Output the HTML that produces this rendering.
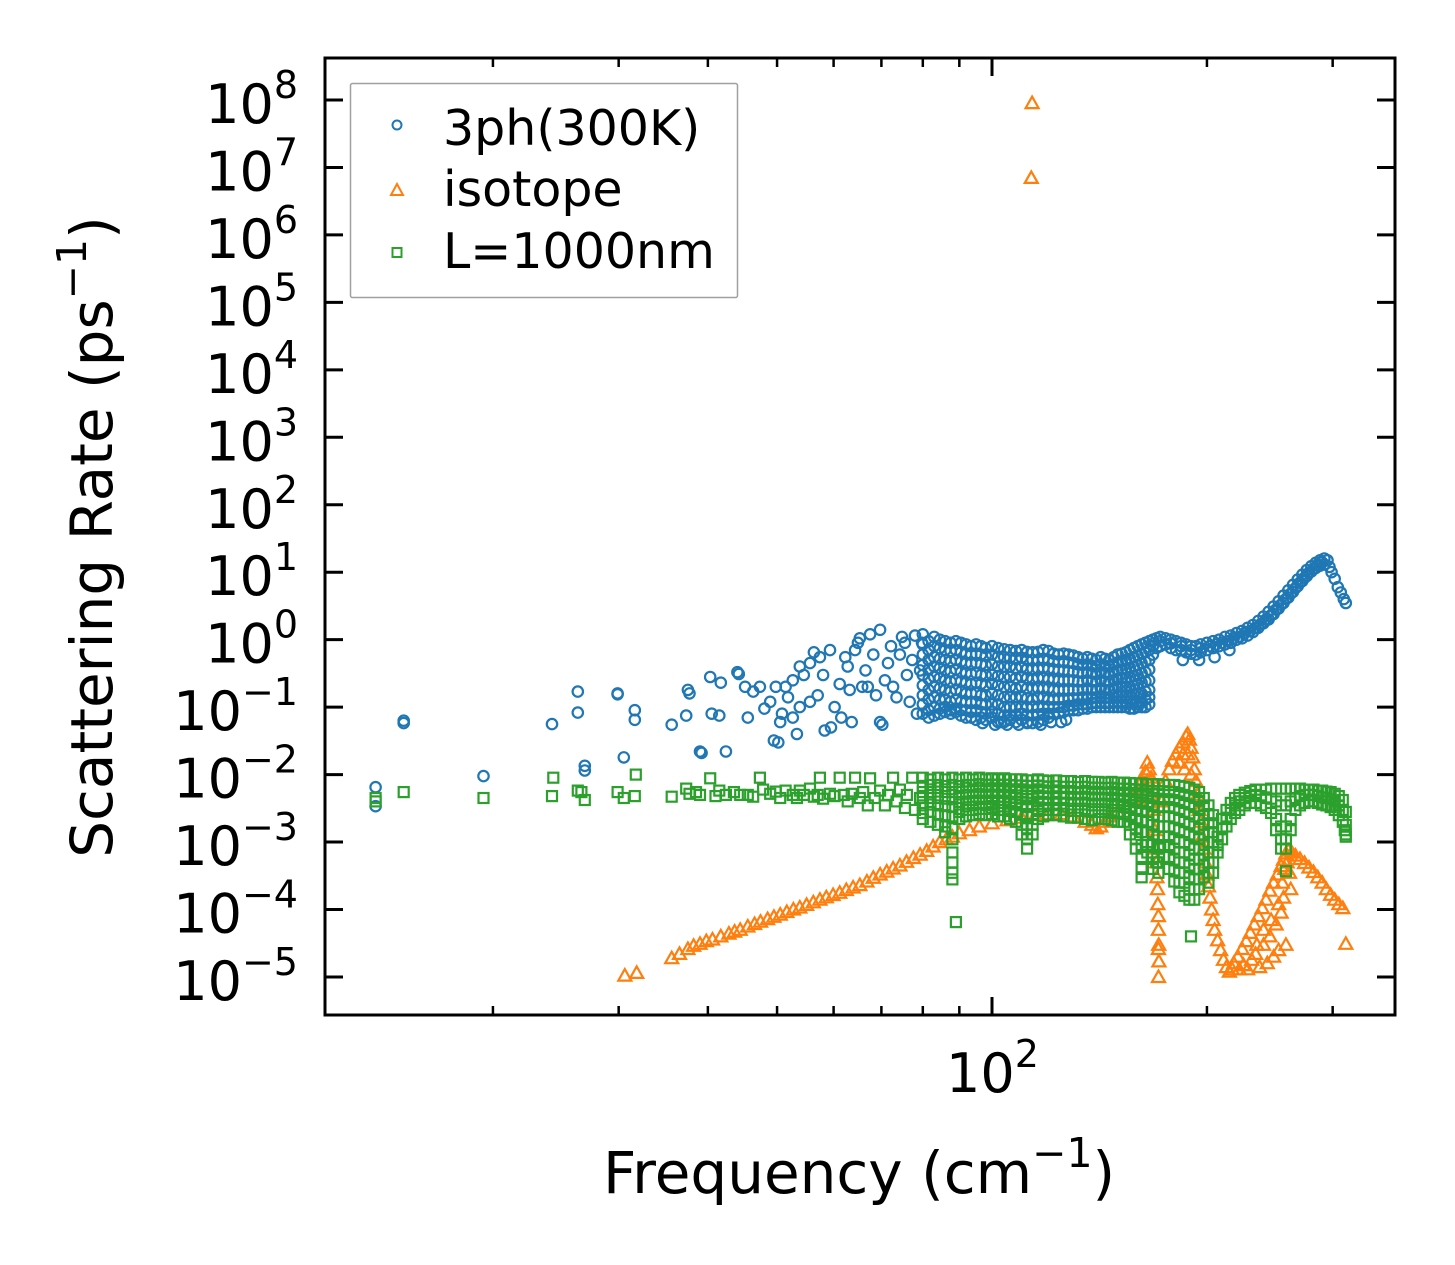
<!DOCTYPE html>
<html><head><meta charset="utf-8"><style>
html,body{margin:0;padding:0;background:#fff;}
svg{display:block;font-family:"DejaVu Sans","Liberation Sans",sans-serif;}
</style></head><body>
<svg id="chart" width="1455" height="1265" viewBox="0 0 1455 1265" xmlns="http://www.w3.org/2000/svg">
<rect x="0" y="0" width="1455" height="1265" fill="#fff"/>
<g id="marks"></g>
<g id="axes"></g>
<text x="603" y="1193" font-size="58" fill="#000">Frequency (cm<tspan font-size="41" dy="-26">−1</tspan><tspan dy="26">)</tspan></text>
<text transform="translate(112,537) rotate(-90)" text-anchor="middle" font-size="58" fill="#000">Scattering Rate (ps<tspan font-size="41" dy="-26">−1</tspan><tspan dy="26">)</tspan></text>
<g>
<rect x="350.5" y="83.5" width="387" height="214" rx="2" fill="#fff" fill-opacity="0.8" stroke="#a0a0a0" stroke-width="1.5"/>
<circle cx="397" cy="125" r="4.5" fill="none" stroke="#1f77b4" stroke-width="2"/>
<text x="443" y="145" font-size="49">3ph(300K)</text>
<path d="M397,184 L403,195 L391,195 Z" fill="none" stroke="#ff7f0e" stroke-width="2"/>
<text x="443" y="206" font-size="49">isotope</text>
<rect x="392.5" y="248" width="9" height="9" fill="none" stroke="#2ca02c" stroke-width="2"/>
<text x="443" y="268" font-size="49">L=1000nm</text>
</g>
</svg>
<script>
// ---------- data ----------
const yTickExponents = [8,7,6,5,4,3,2,1,0,-1,-2,-3,-4,-5];
const xMajorTicks = [100];
const xMinorTicks = [20,30,40,50,60,70,80,90,200,300];

const ph3Sparse = [[13.7,0.0065],[13.7,0.0034],[15.0,0.063],[15.0,0.058],[19.4,0.0095],[24.2,0.056],[26.3,0.17],[26.3,0.083],[26.9,0.0135],[26.9,0.0115],[29.9,0.16],[29.9,0.155],[30.5,0.018],[31.6,0.09],[31.6,0.065],
[35.6,0.055],[37.3,0.075],[37.5,0.18],[37.7,0.16],[39.0,0.022],[39.2,0.021],[40.3,0.28],[40.5,0.08],[41.5,0.075],[41.7,0.23],[42.4,0.022],[44.0,0.33],[44.2,0.31],[45.1,0.2],[45.5,0.07],[46.3,0.17],[47.3,0.2],[48.0,0.095],[48.9,0.12],[49.5,0.032],[49.8,0.2],[50.2,0.03],[50.5,0.06],[50.8,0.08],[51.4,0.2],[51.8,0.14],[52.6,0.07],[52.6,0.25],[53.3,0.04],[53.8,0.1],[53.8,0.4],[54.5,0.3],[55.6,0.12],[55.6,0.45],[56.3,0.65],[57.0,0.15],[57.4,0.55],[58.0,0.3],[58.3,0.045],[59.3,0.7],[59.5,0.05],[60.2,0.1],[61.2,0.22],[61.5,0.07],[62.3,0.55],[62.8,0.4],[63.2,0.18],[63.6,0.06],[64.3,0.7],[64.9,0.9],[65.3,1.05],[65.8,0.2],[66.5,0.35],[67.0,0.2],[67.5,1.2],[68.2,0.6],[68.8,0.15],[69.7,1.4],[69.7,0.06],[70.2,0.055],[70.8,0.25],[71.5,0.45],[72.2,0.8],[72.7,0.2],[73.5,0.14],[74.3,0.6],[74.8,1.1],[75.5,0.9],[76.0,0.3],[76.7,0.12],[77.3,0.5],[78.0,1.15],[78.5,0.08],[79.3,0.35],[79.8,0.9],
[97,0.058],[101,0.055],[103,0.06],[105,0.055],[109,0.055],[112,0.058],[117,0.055],[121,0.06],[125,0.06],[127,0.065]];

const ph3ColFreq = [80,81.5,83,84.5,86,87.5,89,90.5,92,93.5,95,96.5,98,100,102,104,106,108,110,112,114,116,118,120,122,124,126,128,130,132,134,136,138,140,142,144,146,148,150,152,154,156,158,160,162,164,166];
const ph3ColRates = [
[1.2,0.85,0.6,0.42,0.3,0.21,0.15,0.11,0.08],
[0.95,0.7,0.5,0.36,0.26,0.18,0.13,0.09,0.07],
[1.1,0.8,0.55,0.4,0.28,0.2,0.14,0.1,0.075],
[1.0,0.75,0.52,0.38,0.27,0.19,0.13,0.095,0.08],
[0.95,0.7,0.5,0.35,0.25,0.18,0.13,0.1,0.085],
[0.9,0.68,0.48,0.34,0.24,0.17,0.12,0.09,0.08],
[0.95,0.7,0.5,0.36,0.25,0.18,0.13,0.095,0.085],
[0.9,0.65,0.47,0.33,0.24,0.17,0.12,0.09,0.075],
[0.85,0.62,0.45,0.32,0.23,0.16,0.12,0.09,0.07],
[0.8,0.6,0.44,0.31,0.22,0.16,0.115,0.085,0.07],
[0.85,0.62,0.45,0.32,0.23,0.16,0.12,0.09,0.065],
[0.8,0.6,0.43,0.3,0.22,0.15,0.11,0.085,0.07],
[0.75,0.58,0.42,0.3,0.21,0.15,0.11,0.08,0.065],
[0.8,0.6,0.43,0.3,0.22,0.16,0.11,0.085,0.07],
[0.75,0.56,0.4,0.29,0.21,0.15,0.11,0.08,0.06],
[0.72,0.55,0.4,0.28,0.2,0.14,0.1,0.075,0.06],
[0.7,0.54,0.4,0.28,0.2,0.14,0.1,0.075,0.065],
[0.68,0.52,0.38,0.27,0.19,0.14,0.1,0.075,0.06],
[0.7,0.54,0.39,0.28,0.2,0.14,0.1,0.08,0.065],
[0.66,0.5,0.37,0.27,0.19,0.135,0.1,0.075,0.06],
[0.65,0.5,0.37,0.26,0.19,0.13,0.1,0.075,0.058],
[0.66,0.5,0.37,0.27,0.19,0.14,0.1,0.078,0.06],
[0.7,0.52,0.38,0.27,0.19,0.14,0.1,0.08,0.065],
[0.68,0.5,0.37,0.26,0.19,0.13,0.1,0.08,0.07],
[0.62,0.48,0.36,0.26,0.18,0.13,0.1,0.08],
[0.6,0.47,0.35,0.25,0.18,0.13,0.1,0.082],
[0.62,0.48,0.35,0.25,0.18,0.13,0.1,0.085],
[0.6,0.46,0.34,0.25,0.18,0.13,0.105,0.09],
[0.58,0.45,0.34,0.25,0.18,0.135,0.105,0.09],
[0.55,0.43,0.33,0.24,0.18,0.135,0.11,0.09],
[0.52,0.42,0.32,0.24,0.18,0.14,0.11,0.095],
[0.55,0.43,0.33,0.25,0.19,0.14,0.11,0.095],
[0.52,0.41,0.32,0.24,0.18,0.14,0.115,0.1],
[0.5,0.4,0.31,0.24,0.18,0.14,0.115,0.1],
[0.55,0.43,0.33,0.25,0.19,0.145,0.12,0.1],
[0.52,0.41,0.32,0.24,0.18,0.14,0.115,0.1],
[0.5,0.4,0.31,0.24,0.18,0.14,0.115,0.1],
[0.55,0.43,0.33,0.25,0.19,0.15,0.12,0.1],
[0.6,0.46,0.35,0.26,0.2,0.15,0.12,0.1],
[0.62,0.48,0.36,0.27,0.2,0.15,0.12,0.1],
[0.65,0.5,0.37,0.27,0.2,0.15,0.12,0.1],
[0.7,0.52,0.38,0.28,0.2,0.15,0.12,0.095],
[0.75,0.55,0.4,0.29,0.21,0.155,0.12,0.095],
[0.8,0.58,0.42,0.3,0.22,0.16,0.12,0.1],
[0.85,0.62,0.45,0.32,0.23,0.16,0.12,0.1],
[0.9,0.65,0.47,0.33,0.24,0.17,0.13,0.1],
[0.95,0.7,0.5,0.36,0.25,0.18,0.14,0.11]];

const ph3Tail = [[168,1.0],[168,0.6],[168,0.8],[170,1.05],[170,0.75],[172,1.1],[172,0.8],[172,0.95],[175,1.05],[175,0.85],[178,1.0],[178,0.75],[178,0.88],[181,0.95],[181,0.7],[184,0.9],[184,0.7],[184,0.8],[187,0.85],[187,0.65],[190,0.8],[190,0.62],[190,0.7],[193,0.8],[193,0.6],[196,0.85],[196,0.65],[196,0.75],[200,0.9],[200,0.7],[202,0.8],[204,0.95],[204,0.75],[206,0.85],[208,1.0],[208,0.8],[210,0.9],[212,1.1],[212,0.85],[214,0.95],[216,1.15],[216,0.9],[218,1.05],[220,1.25],[220,1.0],[222,1.1],[224,1.35],[224,1.05],[226,1.25],[228,1.5],[228,1.15],[230,1.35],[232,1.65],[232,1.3],[234,1.5],[236,1.9],[236,1.5],[238,1.7],[240,2.2],[240,1.75],[242,2.0],[244,2.6],[244,2.0],[246,2.3],[248,3.1],[248,2.4],[250,2.8],[252,3.7],[252,2.9],[254,3.3],[256,4.5],[256,3.5],[258,4.0],[260,5.4],[260,4.2],[262,4.8],[264,6.5],[264,5.1],[266,5.8],[268,7.8],[268,6.2],[270,7.0],[272,9.2],[272,7.4],[274,8.3],[276,10.8],[276,8.8],[278,9.8],[280,12.3],[280,10.2],[282,11.2],[284,13.8],[284,11.5],[286,12.8],[288,15],[288,12.5],[290,14],[292,16],[292,13],[295,15],[297,12],[299,10],[302,8],[305,6],[308,5],[311,4],[313,3.5],[185,0.5],[195,0.5],[205,0.55],[215,0.7]];

const isoPoints = [[113.8,9e7],[113.5,7e6],[30.6,1.05e-5],[31.8,1.15e-5],
[35.6,1.9e-5],[36.5,2.2e-5],[37.5,2.6e-5],[38.2,2.9e-5],[39.0,3.1e-5],[39.8,3.4e-5],[40.6,3.6e-5],[41.7,4.0e-5],[42.8,4.4e-5],[43.6,4.7e-5],[44.4,5.0e-5],[45.5,5.6e-5],[46.5,6.1e-5],[47.4,6.6e-5],[48.5,7.2e-5],[49.5,7.8e-5],[50.5,8.4e-5],[51.6,9.2e-5],[52.7,1.0e-4],[53.8,1.07e-4],[55.0,1.17e-4],[56.2,1.28e-4],[57.4,1.4e-4],[58.6,1.52e-4],[59.9,1.64e-4],[61.2,1.77e-4],[62.5,1.95e-4],[63.9,2.12e-4],[65.3,2.3e-4],[66.8,2.6e-4],[68.2,2.95e-4],[69.7,3.3e-4],[71.2,3.65e-4],[72.7,4.05e-4],[74.3,4.5e-4],[75.9,5.1e-4],[77.6,5.8e-4],[79.3,6.5e-4],[81.0,7.4e-4],[82.7,8.6e-4],[84.5,1.0e-3],[86.3,1.1e-3],
[88,1.2e-3],[90,1.35e-3],[93,1.5e-3],[96,1.7e-3],[100,1.9e-3],[105,2.1e-3],[110,2.3e-3],[115,2.5e-3],[120,2.6e-3],[125,2.6e-3],[130,2.4e-3],[135,2.0e-3],[138,1.8e-3],[140,1.6e-3],[142,1.7e-3],[144,2.0e-3],[146,2.4e-3],[150,2.8e-3],[154,3.3e-3],[158,4.5e-3],[160,6e-3],[162,8e-3],[164,0.011],[165,0.015],[166,0.012],[167,0.009],[168,0.006],[161,4e-3],[163,6e-3],[165,8e-3],[167,5e-3],
[168.5,3e-3],[169,1.5e-3],[169.5,8e-4],[170,5e-4],[170.2,3e-4],[170.5,2e-4],[170.7,1.2e-4],[171,8e-5],[171,5e-5],[171.2,3e-5],[171,2.6e-5],[171.3,1.7e-5],[171.1,1e-5],
[173,4e-3],[175,8e-3],[177,0.012],[179,0.016],[181,0.02],[183,0.025],[185,0.03],[187,0.037],[188,0.04],[189,0.033],[190,0.025],[191,0.018],[192,0.012],[193,0.008],[194,0.005],[195,0.003],[196,0.002],[197,1.2e-3],[198,8e-4],[199,5e-4],[200,3.3e-4],[201,2.2e-4],[202,1.5e-4],[203,1e-4],[204,7e-5],[205,5e-5],[207,3.5e-5],[209,2.5e-5],[211,1.8e-5],[213,1.4e-5],[215,1.2e-5],[217,1.3e-5],[183,0.015],[185,0.02],[186,0.012],[188,0.02],[190,0.01],
[218,1.6e-5],[221,2e-5],[224,2.6e-5],[227,3.4e-5],[230,4.5e-5],[233,6e-5],[236,8e-5],[239,1.05e-4],[242,1.4e-4],[245,1.9e-4],[248,2.5e-4],[251,3.3e-4],[254,4.4e-4],[256,5.5e-4],[258,6.8e-4],[260,7.5e-4],[263,7e-4],[266,6.3e-4],[270,5.6e-4],[274,4.9e-4],[278,4.2e-4],[282,3.6e-4],[286,3.0e-4],[290,2.5e-4],[294,2.0e-4],[298,1.65e-4],[302,1.4e-4],[306,1.2e-4],[310,1.05e-4],[313,3.1e-5],
[222,1.3e-5],[225,1.5e-5],[228,1.3e-5],[231,1.8e-5],[234,2.2e-5],[237,1.4e-5],[240,3e-5],[243,1.6e-5],[245,4e-5],[248,2e-5],[250,6e-5],[252,2.5e-5],[254,9e-5],[256,1.5e-4],[258,3e-5],[246,7e-5],[240,5e-5],[235,3e-5],[252,1.2e-4],[255,2.5e-4],[257,4e-4],[259,5e-4],[261,3.5e-4],[262,2e-4]];

const bndSparse = [[13.7,0.0045],[13.7,0.0040],[15.0,0.0055],[19.4,0.0045],[24.2,0.0048],[24.3,0.009],[26.3,0.0058],[26.6,0.0055],[26.9,0.0042],[29.9,0.0055],[30.5,0.0045],[31.6,0.0048],[31.7,0.010],
[35.6,0.0047],[37.3,0.0062],[37.7,0.0052],[38.5,0.0055],[39.0,0.0050],[40.3,0.0088],[41.0,0.0048],[41.5,0.0058],[42.4,0.0050],[43.5,0.0055],[44.4,0.0050],[45.5,0.0050],[46.3,0.0047],[47.3,0.0090],[47.8,0.0060],[48.9,0.0052],[49.8,0.0056],[50.5,0.0045],[51.4,0.0058],[52.6,0.0050],[53.3,0.0045],[53.8,0.0058],[54.5,0.0050],[55.6,0.0062],[56.3,0.0047],[57.0,0.0050],[57.4,0.0090],[58.0,0.0044],[59.3,0.0052],[60.2,0.0048],[61.2,0.0090],[62.0,0.0050],[62.8,0.0040],[63.6,0.0052],[64.3,0.0090],[65.3,0.0045],[66.0,0.0055],[67.0,0.0035],[67.5,0.0088],[68.5,0.0045],[69.7,0.0058],[70.8,0.0035],[71.5,0.0050],[72.7,0.0090],[73.5,0.004],[74.3,0.0060],[75.5,0.0032],[76.0,0.0050],[77.3,0.009],[78.0,0.0030],[79.3,0.0045],
[89,6.5e-5],[190,4e-5],[258,3.7e-4],[170,5e-4],[172,9e-4],[312,0.0015],[313,0.0012]];

const bndColFreq = [80,82,84,86,88,90,92,94,96,98,100,102,104,106,108,110,112,114,116,118,120,123,126,129,132,135,138,141,144,147,150,153,156,159,162,165,168,171,174,177,180,183,186,189,192,195,198,201,204];
const bndColRates = [
[0.009,0.0068,0.0055,0.0045,0.0035,0.0027,0.0022],
[0.0085,0.007,0.0055,0.0045,0.0036,0.0028,0.002],
[0.009,0.007,0.0056,0.0045,0.0035,0.0026,0.0018],
[0.0085,0.0068,0.0055,0.0044,0.0034,0.0025,0.0017,0.0014],
[0.009,0.007,0.0055,0.0043,0.0033,0.0024,0.0016,0.0011,0.0007,0.0005,0.00035,0.00028],
[0.0085,0.0068,0.0055,0.0045,0.0036,0.0028,0.0022],
[0.009,0.007,0.0056,0.0046,0.0037,0.003,0.0024],
[0.0085,0.007,0.0057,0.0047,0.0038,0.003,0.0025],
[0.009,0.0072,0.0058,0.0047,0.0038,0.0031,0.0026],
[0.0085,0.007,0.0057,0.0047,0.0038,0.0031,0.0025],
[0.0088,0.0071,0.0058,0.0048,0.0039,0.0032,0.0026],
[0.0085,0.007,0.0057,0.0047,0.0038,0.003,0.0024],
[0.0088,0.0071,0.0058,0.0047,0.0038,0.003,0.0024],
[0.0085,0.007,0.0056,0.0046,0.0037,0.0029,0.0022],
[0.0085,0.0069,0.0056,0.0045,0.0036,0.0028,0.002],
[0.0085,0.0069,0.0055,0.0044,0.0035,0.0026,0.0018,0.0013],
[0.0082,0.0068,0.0054,0.0043,0.0033,0.0024,0.0016,0.0011,0.0008],
[0.0082,0.0068,0.0054,0.0044,0.0035,0.0026,0.0018,0.0013],
[0.0085,0.0069,0.0056,0.0046,0.0037,0.0029,0.0022],
[0.0082,0.0067,0.0055,0.0045,0.0037,0.003,0.0024],
[0.008,0.0066,0.0054,0.0045,0.0037,0.003,0.0025],
[0.0082,0.0067,0.0055,0.0045,0.0037,0.003,0.0025],
[0.008,0.0066,0.0054,0.0045,0.0037,0.003,0.0024],
[0.008,0.0066,0.0054,0.0044,0.0036,0.0029,0.0023],
[0.0078,0.0065,0.0053,0.0044,0.0036,0.0029,0.0023],
[0.008,0.0066,0.0054,0.0044,0.0036,0.0029,0.0022],
[0.0078,0.0064,0.0052,0.0043,0.0035,0.0028,0.0021],
[0.0078,0.0064,0.0052,0.0043,0.0035,0.0028,0.0022],
[0.0076,0.0063,0.0052,0.0043,0.0035,0.0028,0.0022],
[0.0078,0.0064,0.0052,0.0042,0.0034,0.0027,0.0021],
[0.0076,0.0062,0.0051,0.0042,0.0034,0.0027,0.002],
[0.0076,0.0062,0.005,0.0041,0.0033,0.0026,0.002],
[0.0075,0.0061,0.005,0.004,0.0032,0.0024,0.0018,0.0013],
[0.0074,0.006,0.0049,0.0039,0.003,0.0022,0.0016,0.0011,0.0008],
[0.0074,0.006,0.0048,0.0038,0.0029,0.0021,0.0014,0.0009,0.0006,0.0004,0.0003],
[0.0072,0.0058,0.0047,0.0037,0.0028,0.002,0.0014,0.001,0.0007],
[0.0072,0.0057,0.0045,0.0034,0.0025,0.0018,0.0013,0.0009,0.0006,0.0004],
[0.0072,0.0057,0.0044,0.0033,0.0024,0.0017,0.0012,0.0008,0.0005,0.00035],
[0.007,0.0056,0.0043,0.0033,0.0024,0.0017,0.0012,0.0009,0.0006],
[0.007,0.0055,0.0043,0.0033,0.0024,0.0017,0.0012,0.0009,0.0006,0.0004],
[0.007,0.0055,0.0042,0.0032,0.0023,0.0016,0.0011,0.0008,0.00055,0.00038,0.00026],
[0.0068,0.0053,0.004,0.003,0.0022,0.0015,0.001,0.0007,0.0005,0.00035,0.00025,0.00018],
[0.0066,0.005,0.0038,0.0028,0.002,0.0014,0.001,0.0007,0.0005,0.00035,0.00025,0.00016],
[0.0064,0.0048,0.0036,0.0026,0.0019,0.0013,0.0009,0.00065,0.00045,0.0003,0.0002,0.00014],
[0.006,0.0045,0.0033,0.0024,0.0017,0.0012,0.0008,0.00055,0.0004,0.00028,0.0002,0.00014],
[0.0055,0.0041,0.003,0.0022,0.0016,0.0011,0.0008,0.00055,0.0004,0.00028,0.0002],
[0.0045,0.0034,0.0025,0.0018,0.0013,0.0009,0.00065,0.00045,0.0003],
[0.0035,0.0026,0.0019,0.0014,0.001,0.0007,0.0005,0.00035,0.00025],
[0.0025,0.0019,0.0014,0.001,0.0007,0.0005,0.00035]];

const bndArchFreq = [207,210,213,216,219,222,226,230,234,238,242,246,250,254,258,262,266,270,274,278,282,286,290,294,298,302,306,310,313];
const bndArchRates = [
[0.0012,0.0009,0.0007],[0.0022,0.0016,0.0011],[0.003,0.0023,0.0017],[0.0038,0.003,0.0022],[0.0045,0.0035,0.0027],[0.005,0.004,0.003],[0.0054,0.0045,0.0035],[0.0057,0.0048,0.0038],[0.006,0.005,0.0038],[0.006,0.0048,0.0035],[0.006,0.0046,0.0032],[0.0062,0.0044,0.0027],[0.0062,0.004,0.0022,0.0015],[0.0062,0.0035,0.0017,0.0011,0.0008],[0.0062,0.0035,0.0017,0.0011,0.0008],[0.0062,0.004,0.0022,0.0015],[0.0062,0.0045,0.003],[0.0062,0.0048,0.0035],[0.006,0.005,0.0038],[0.006,0.005,0.004],[0.006,0.005,0.004],[0.0058,0.0048,0.0038],[0.0058,0.0046,0.0036],[0.0056,0.0045,0.0035],[0.0055,0.0043,0.0033],[0.0052,0.004,0.003],[0.0048,0.0035,0.0025],[0.0042,0.003,0.002],[0.0028,0.0018,0.0013]];

// ---------- scales ----------
const X0 = 992, XDEC = 714, Y8 = 100, YDEC = 67.46;
const PL = 325, PR = 1395, PT = 58, PB = 1015;
function xs(f){ return X0 + XDEC*Math.log10(f/100); }
function ys(v){ return Y8 + (8 - Math.log10(v))*YDEC; }

const NS = "http://www.w3.org/2000/svg";
const marks = document.getElementById('marks');
const axes = document.getElementById('axes');
function mk(tag, attrs, parent){
  const e = document.createElementNS(NS, tag);
  for (const k in attrs) e.setAttribute(k, attrs[k]);
  parent.appendChild(e); return e;
}

const gBlue = mk('g', {fill:'none', stroke:'#1f77b4', 'stroke-width':'2.2'}, marks);


const gOrange = mk('g', {fill:'none', stroke:'#ff7f0e', 'stroke-width':'2.2'}, marks);


const gGreen = mk('g', {fill:'none', stroke:'#2ca02c', 'stroke-width':'2.2'}, marks);



function circ(f, v){
  const c = mk('circle', {cx: xs(f).toFixed(1), cy: ys(v).toFixed(1), r: 5.2}, gBlue);
  
  
}
function tri(f, v){
  const x = xs(f), y = ys(v);
  const p = mk('path', {d:`M${x.toFixed(1)},${(y-6.5).toFixed(1)}L${(x+6.5).toFixed(1)},${(y+5).toFixed(1)}L${(x-6.5).toFixed(1)},${(y+5).toFixed(1)}Z`}, gOrange);
  
  
}
function sq(f, v){
  const x = xs(f), y = ys(v);
  const r = mk('rect', {x:(x-5).toFixed(1), y:(y-5).toFixed(1), width:10, height:10}, gGreen);
  
  
}

ph3Sparse.forEach(p => circ(p[0], p[1]));
ph3ColFreq.forEach((f,i) => ph3ColRates[i].forEach(v => circ(f, v)));
ph3Tail.forEach(p => circ(p[0], p[1]));
isoPoints.forEach(p => tri(p[0], p[1]));
bndSparse.forEach(p => sq(p[0], p[1]));
bndColFreq.forEach((f,i) => bndColRates[i].forEach(v => sq(f, v)));
bndArchFreq.forEach((f,i) => bndArchRates[i].forEach(v => sq(f, v)));

// ---------- axes ----------
const frame = mk('rect', {x:PL, y:PT, width:PR-PL, height:PB-PT, fill:'none', stroke:'#000', 'stroke-width':'3'}, axes);



yTickExponents.forEach(e => {
  const y = ys(Math.pow(10, e));
  const t1 = mk('line', {x1:PL, x2:PL+18, y1:y, y2:y, stroke:'#000', 'stroke-width':'3'}, axes);
  
  
  const t2 = mk('line', {x1:PR-18, x2:PR, y1:y, y2:y, stroke:'#000', 'stroke-width':'3'}, axes);
  
  
  const lab = mk('text', {x:298, y:(y+23).toFixed(1), 'text-anchor':'end', 'font-size':'54', fill:'#000'}, axes);
  
  
  const a = document.createElementNS(NS,'tspan'); a.textContent = '10'; lab.appendChild(a);
  const b = document.createElementNS(NS,'tspan'); b.setAttribute('font-size','38'); b.setAttribute('dy','-25');
  b.textContent = e < 0 ? '\u2212' + (-e) : String(e); lab.appendChild(b);
});

xMinorTicks.forEach(f => {
  const x = xs(f);
  const t1 = mk('line', {x1:x, x2:x, y1:PB, y2:PB-9, stroke:'#000', 'stroke-width':'2.5'}, axes);
  
  
  const t2 = mk('line', {x1:x, x2:x, y1:PT, y2:PT+9, stroke:'#000', 'stroke-width':'2.5'}, axes);
  
  
});
xMajorTicks.forEach(f => {
  const x = xs(f);
  const t1 = mk('line', {x1:x, x2:x, y1:PB, y2:PB-18, stroke:'#000', 'stroke-width':'3'}, axes);
  
  
  const t2 = mk('line', {x1:x, x2:x, y1:PT, y2:PT+18, stroke:'#000', 'stroke-width':'3'}, axes);
  
  
  const lab = mk('text', {x:(x-46).toFixed(1), y:1092, 'font-size':'54', fill:'#000'}, axes);
  
  
  const a = document.createElementNS(NS,'tspan'); a.textContent = '10'; lab.appendChild(a);
  const b = document.createElementNS(NS,'tspan'); b.setAttribute('font-size','38'); b.setAttribute('dy','-25');
  b.textContent = String(Math.round(Math.log10(f))); lab.appendChild(b);
});
</script>
</body></html>
